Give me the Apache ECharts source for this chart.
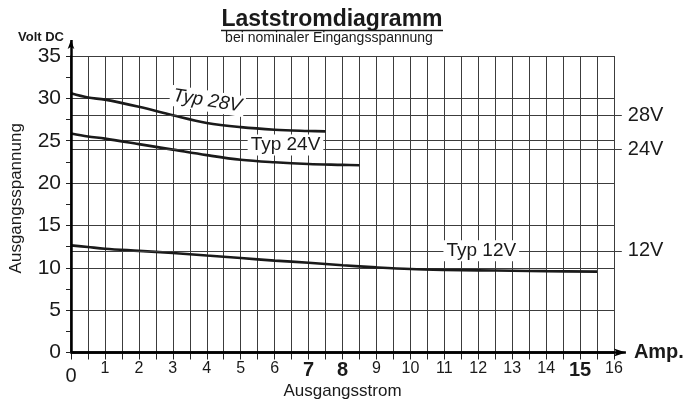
<!DOCTYPE html>
<html>
<head>
<meta charset="utf-8">
<script src="https://cdn.jsdelivr.net/npm/echarts@6/dist/echarts.min.js"></script>
<style>
  html, body { margin: 0; padding: 0; background: #fff; }
  #chart { width: 686px; height: 401px; }
</style>
</head>
<body>
<div id="chart"></div>
<script>
// Laststromdiagramm: Ausgangsspannung (V) über Ausgangsstrom (A)
const amps28 = [0, 0.5, 1, 2, 3, 4, 5, 6, 7, 7.5];
const volts28 = [30.6, 30.1, 29.85, 29.0, 28.0, 27.1, 26.6, 26.3, 26.15, 26.1];
const amps24 = [0, 0.5, 1, 2, 3, 4, 5, 6, 7, 8, 8.5];
const volts24 = [25.85, 25.5, 25.25, 24.6, 23.95, 23.3, 22.75, 22.45, 22.25, 22.15, 22.1];
const amps12 = [0, 0.5, 1, 2, 3, 4, 5, 6, 7, 8, 9, 10, 11, 12, 13, 14, 15.5];
const volts12 = [12.65, 12.45, 12.25, 12.0, 11.75, 11.45, 11.15, 10.85, 10.6, 10.3, 10.05, 9.85, 9.75, 9.7, 9.65, 9.6, 9.55];

const nominal = [28, 24, 12];
const nominalNames = ['28V', '24V', '12V'];
const curveNames = ['Typ 28V', 'Typ 24V', 'Typ 12V'];
const boldTicks = [7, 8, 15];

// where the "Typ" tags sit (data coords)
const tagAt = [[4.02, 29.7], [6.32, 24.5], [12.09, 12]];

const FONT = 'Liberation Sans, Arial, sans-serif';
const INK = '#1a1a1a';
const GRID = '#3c3c3c';

// one pixel scale for both grids
const L = 71, B = 352.5;
const PX = 543 / 16, PY = 296.5 / 35;

const pairs = (xs, ys) => xs.map((x, i) => [x, ys[i]]);

const chart = echarts.init(document.getElementById('chart'));

const curve = (name, data) => ({
  name, type: 'line', data, smooth: 0.35, showSymbol: false, z: 3,
  xAxisIndex: 0, yAxisIndex: 0,
  lineStyle: { color: INK, width: 2.6 }
});

const refLines = nominal.map((v, i) => [
  { coord: [0, v], symbol: 'none' },
  {
    coord: [16.23, v], symbol: 'none',
    label: { show: true, position: 'end', distance: 6, formatter: nominalNames[i],
             fontSize: 20, color: INK, fontFamily: FONT }
  }
]);

// x axis runs on past 16 A into an arrow, y axis past 35 V
const axisArrows = [
  [
    { coord: [0, 0], symbol: 'none' },
    {
      coord: [16.35, 0], symbol: 'arrow', symbolSize: [6, 12],
      label: { show: true, position: 'end', distance: 8, formatter: 'Amp.',
               fontSize: 20, fontWeight: 'bold', color: INK, fontFamily: FONT }
    }
  ],
  [
    { coord: [0, 0], symbol: 'none' },
    { coord: [0, 36.9], symbol: 'arrow', symbolSize: [5, 9] }
  ]
];

chart.setOption({
  animation: false,
  backgroundColor: '#fff',
  textStyle: { fontFamily: FONT },
  grid: [
    { left: L, top: B - 35 * PY, width: 16 * PX, height: 35 * PY, outerBoundsMode: 'none', containLabel: false },
    { left: L, top: B - 38 * PY, width: 16.6 * PX, height: 38 * PY, outerBoundsMode: 'none', containLabel: false }
  ],
  xAxis: [
    {
      type: 'value', min: 0, max: 16, interval: 1, gridIndex: 0,
      name: 'Ausgangsstrom', nameLocation: 'middle', nameGap: 30, nameMoveOverlap: false,
      nameTextStyle: { fontSize: 17, color: INK, fontFamily: FONT },
      axisLine: { show: true, onZero: false, lineStyle: { color: '#000', width: 2.5 } },
      axisTick: { show: true, length: 7, lineStyle: { color: '#222', width: 1 } },
      minorTick: { show: true, splitNumber: 2, length: 7, lineStyle: { color: '#222', width: 1 } },
      splitLine: { show: true, lineStyle: { color: GRID, width: 1 } },
      minorSplitLine: { show: true, lineStyle: { color: GRID, width: 1 } },
      axisLabel: {
        margin: 8, fontSize: 16, color: INK, fontFamily: FONT,
        formatter: v => v === 0 ? '{z|0}' : boldTicks.includes(v) ? '{b|' + v + '}' : String(v),
        rich: {
          z: { fontSize: 20, color: INK, fontFamily: FONT, padding: [6, 0, 0, 0] },
          b: { fontSize: 20, fontWeight: 'bold', color: INK, fontFamily: FONT }
        }
      }
    },
    { type: 'value', min: 0, max: 16.6, gridIndex: 1, show: false }
  ],
  yAxis: [
    {
      type: 'value', min: 0, max: 35, interval: 5, gridIndex: 0,
      name: 'Ausgangsspannung', nameLocation: 'middle', nameGap: 46, nameRotate: 90, nameMoveOverlap: false,
      nameTextStyle: { fontSize: 17, color: INK, fontFamily: FONT, padding: [0, 0, 0, 12] },
      axisLine: { show: true, lineStyle: { color: '#000', width: 1.5 } },
      axisTick: { show: true, length: 5, lineStyle: { color: '#222', width: 1 } },
      minorTick: { show: true, splitNumber: 2, length: 5, lineStyle: { color: '#222', width: 1 } },
      splitLine: { show: true, lineStyle: { color: GRID, width: 1 } },
      axisLabel: { margin: 10, fontSize: 21, color: INK, fontFamily: FONT }
    },
    { type: 'value', min: 0, max: 38, gridIndex: 1, show: false }
  ],
  series: [
    curve(curveNames[0], pairs(amps28, volts28)),
    curve(curveNames[1], pairs(amps24, volts24)),
    curve(curveNames[2], pairs(amps12, volts12)),
    {
      name: 'frame', type: 'line', data: [], xAxisIndex: 1, yAxisIndex: 1, z: 2,
      markLine: {
        silent: true, symbol: 'none', animation: false,
        lineStyle: { color: GRID, width: 1.2, type: 'solid' },
        label: { show: false },
        data: refLines
      }
    },
    {
      name: 'axes', type: 'line', data: [], xAxisIndex: 1, yAxisIndex: 1, z: 4,
      markLine: {
        silent: true, animation: false,
        lineStyle: { color: '#000', width: 2.5, type: 'solid' },
        itemStyle: { color: '#000' },
        label: { show: false },
        data: axisArrows
      }
    },
    {
      name: 'tags', type: 'scatter', xAxisIndex: 0, yAxisIndex: 0, z: 6,
      symbolSize: 0, silent: true,
      itemStyle: { opacity: 1 },
      data: tagAt.map((p, i) => ({
        name: curveNames[i], value: p,
        label: i === 0 ? { rotate: -9, fontStyle: 'italic' } : {}
      })),
      label: {
        show: true, position: 'inside', formatter: '{b}',
        fontSize: 19, color: INK, fontFamily: FONT,
        backgroundColor: '#fff', padding: [1, 3, 1, 3]
      }
    }
  ],
  graphic: [
    { type: 'text', x: 332, y: 20, z: 10,
      style: { text: 'Laststromdiagramm', align: 'center', verticalAlign: 'middle',
               font: 'bold 23px ' + FONT, fill: INK } },
    { type: 'line', z: 10, shape: { x1: 221, y1: 30.5, x2: 443, y2: 30.5 },
      style: { stroke: INK, lineWidth: 1.6 } },
    { type: 'text', x: 329, y: 38.5, z: 10,
      style: { text: 'bei nominaler Eingangsspannung', align: 'center', verticalAlign: 'middle',
               font: '14px ' + FONT, fill: INK } },
    { type: 'text', x: 64, y: 37, z: 10,
      style: { text: 'Volt DC', align: 'right', verticalAlign: 'middle',
               font: 'bold 13px ' + FONT, fill: INK } }
  ]
});
</script>
</body>
</html>
